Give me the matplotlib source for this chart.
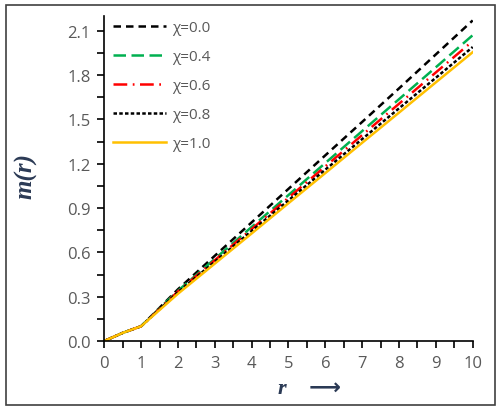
import matplotlib
matplotlib.use('Agg')
import matplotlib.pyplot as plt
from matplotlib.patches import Rectangle
from matplotlib.ticker import MultipleLocator, FormatStrFormatter

plt.rcParams['font.family'] = ['Open Sans', 'DejaVu Sans']

r = [0, 0.5, 1, 1.5, 2, 3, 4, 5, 6, 7, 8, 9, 10]
m_chi00 = [0, 0.055, 0.10, 0.225, 0.35, 0.577, 0.803, 1.03, 1.257, 1.483, 1.71, 1.94, 2.17]
m_chi04 = [0, 0.055, 0.10, 0.222, 0.34, 0.556, 0.772, 0.988, 1.205, 1.421, 1.637, 1.853, 2.07]
m_chi06 = [0, 0.055, 0.10, 0.218, 0.335, 0.547, 0.758, 0.97, 1.182, 1.394, 1.606, 1.818, 2.03]
m_chi08 = [0, 0.055, 0.10, 0.215, 0.33, 0.537, 0.745, 0.952, 1.16, 1.367, 1.575, 1.782, 1.99]
m_chi10 = [0, 0.055, 0.10, 0.21, 0.32, 0.524, 0.728, 0.933, 1.137, 1.342, 1.546, 1.751, 1.955]
labels = ['χ=0.0', 'χ=0.4', 'χ=0.6', 'χ=0.8', 'χ=1.0']

fig = plt.figure(figsize=(5.02, 4.14), dpi=100)
ax = fig.add_axes([104.3 / 502, 72 / 414, 368.4 / 502, 325 / 414])

lw = 1.8
ax.plot(r, m_chi00, color='black', lw=lw, dashes=(3, 2), label=labels[0])
ax.plot(r, m_chi04, color='#00B050', lw=lw, dashes=(5, 2.2), label=labels[1])
ax.plot(r, m_chi06, color='#FF0000', lw=lw, dashes=(5.5, 2.2, 0.7, 2.2), label=labels[2])
ax.plot(r, m_chi08, color='black', lw=lw, dashes=(1.4, 0.9), label=labels[3])
ax.plot(r, m_chi10, color='#FFC000', lw=lw, label=labels[4])

ax.set_xlim(0, 10)
ax.set_ylim(0, 2.2)
ax.xaxis.set_major_locator(MultipleLocator(1))
ax.xaxis.set_minor_locator(MultipleLocator(0.5))
ax.yaxis.set_major_locator(MultipleLocator(0.3))
ax.yaxis.set_minor_locator(MultipleLocator(0.15))
ax.yaxis.set_major_formatter(FormatStrFormatter('%.1f'))
for s in ['top', 'right']:
    ax.spines[s].set_visible(False)
for s in ['left', 'bottom']:
    ax.spines[s].set_linewidth(1.2)
ax.tick_params(which='both', direction='out', length=5, width=1.2,
               labelsize=12, labelcolor='#595959', pad=5)

ax.set_ylabel('m(r)', fontsize=18, color='#2B3A55',
              family=['Liberation Serif'], style='italic', weight='bold')
ax.yaxis.set_label_coords(-0.18, 0.51)
# x label: italic r followed by a long arrow
ax.text(0.556, -0.145, 'r    ⟶', transform=ax.transAxes, ha='center', va='center',
        fontsize=16, color='#2B3A55', family=['Liberation Serif', 'DejaVu Sans'],
        style='italic', weight='bold')

ax.legend(loc='upper left', bbox_to_anchor=(-0.015, 1.03), frameon=False,
          fontsize=11, handlelength=3.5, labelspacing=0.92,
          handletextpad=0.4, labelcolor='#595959')

fig.add_artist(Rectangle((6 / 502, 8 / 414), 489 / 502, 400 / 414,
                         transform=fig.transFigure, fill=False,
                         edgecolor='#404040', lw=1.2))

fig.savefig('out.png', dpi=100)
